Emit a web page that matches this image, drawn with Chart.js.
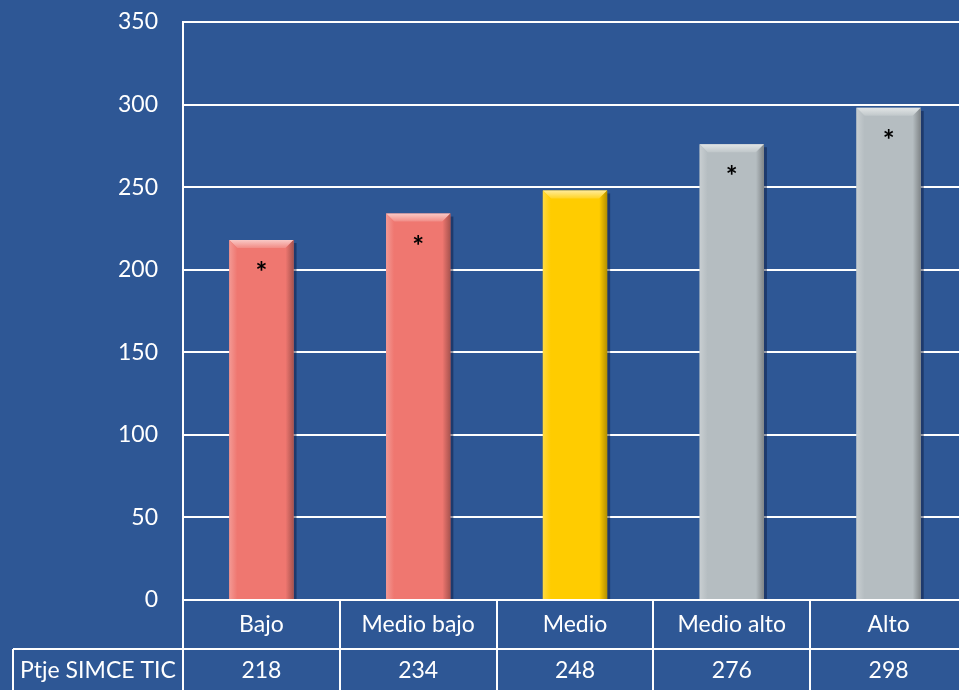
<!DOCTYPE html>
<html><head><meta charset="utf-8">
<script src="https://cdn.jsdelivr.net/npm/chart.js@4"></script>
<style>
html,body{margin:0;padding:0;background:#2E5795;overflow:hidden;}
#wrap{width:970px;height:690px;position:relative;}
</style></head>
<body><div id="wrap"><canvas id="c"></canvas></div>
<script>
const categories = ["Bajo", "Medio bajo", "Medio", "Medio alto", "Alto"];
const values = [218, 234, 248, 276, 298];
const significant = [true, true, false, true, true];
const rowLabel = "Ptje SIMCE TIC";
const yTicks = [0, 50, 100, 150, 200, 250, 300, 350];
const barColors = ["#EF7770", "#EF7770", "#FFCC00", "#B5BDC1", "#B5BDC1"];

const FONT = "Lato, 'Open Sans', sans-serif";

function shade(hex, amt) {
  const n = parseInt(hex.slice(1), 16);
  let r = (n >> 16) & 255, g = (n >> 8) & 255, b = n & 255;
  if (amt >= 0) { r += (255 - r) * amt; g += (255 - g) * amt; b += (255 - b) * amt; }
  else { r *= 1 + amt; g *= 1 + amt; b *= 1 + amt; }
  return `rgb(${Math.round(r)},${Math.round(g)},${Math.round(b)})`;
}

const bevelPlugin = {
  id: 'bevel',
  beforeDatasetsDraw(chart) {
    const ctx = chart.ctx;
    const meta = chart.getDatasetMeta(0);
    ctx.save();
    meta.data.forEach((bar) => {
      const w = bar.width, l = bar.x - w / 2, t = bar.y, b = bar.base;
      ctx.fillStyle = 'rgba(10,25,60,0.45)';
      ctx.fillRect(l + 3, t + 3, w, b - t - 3);
    });
    ctx.restore();
  },
  afterDatasetsDraw(chart) {
    const ctx = chart.ctx;
    const meta = chart.getDatasetMeta(0);
    ctx.save();
    meta.data.forEach((bar, i) => {
      const c = barColors[i];
      const w = bar.width, l = bar.x - w / 2, r = bar.x + w / 2, t = bar.y, b = bar.base;
      const d = 8;
      let g = ctx.createLinearGradient(0, t, 0, t + d);
      g.addColorStop(0, shade(c, 0.6));
      g.addColorStop(1, shade(c, 0.15));
      ctx.fillStyle = g;
      ctx.beginPath(); ctx.moveTo(l, t); ctx.lineTo(r, t); ctx.lineTo(r - d, t + d); ctx.lineTo(l + d, t + d); ctx.closePath(); ctx.fill();
      g = ctx.createLinearGradient(l, 0, l + d, 0);
      g.addColorStop(0, shade(c, 0.25));
      g.addColorStop(1, c);
      ctx.fillStyle = g;
      ctx.beginPath(); ctx.moveTo(l, t); ctx.lineTo(l + d, t + d); ctx.lineTo(l + d, b); ctx.lineTo(l, b); ctx.closePath(); ctx.fill();
      g = ctx.createLinearGradient(r - d, 0, r, 0);
      g.addColorStop(0, c);
      g.addColorStop(1, shade(c, -0.3));
      ctx.fillStyle = g;
      ctx.beginPath(); ctx.moveTo(r, t); ctx.lineTo(r - d, t + d); ctx.lineTo(r - d, b); ctx.lineTo(r, b); ctx.closePath(); ctx.fill();
      if (significant[i]) {
        ctx.fillStyle = '#000';
        ctx.font = "bold 28px " + FONT;
        ctx.textAlign = 'center';
        ctx.textBaseline = 'middle';
        ctx.fillText('*', bar.x, t + 33);
      }
    });
    ctx.restore();
  }
};

const tablePlugin = {
  id: 'table',
  afterDraw(chart) {
    const ctx = chart.ctx;
    const xs = chart.scales.x;
    const area = chart.chartArea;
    const catW = (area.right - area.left) / categories.length;
    const row1Top = area.bottom, row2Top = area.bottom + 49, row2Bot = row2Top + 45;
    ctx.save();
    ctx.strokeStyle = '#fff';
    ctx.lineWidth = 2;
    ctx.beginPath();
    for (let i = 0; i <= categories.length; i++) {
      const x = Math.round(area.left + i * catW);
      ctx.moveTo(x, row1Top); ctx.lineTo(x, row2Bot);
    }
    ctx.moveTo(13, row2Top); ctx.lineTo(area.right, row2Top);
    ctx.moveTo(13, row2Top); ctx.lineTo(13, row2Bot);
    ctx.moveTo(13, row2Bot); ctx.lineTo(area.right, row2Bot);
    ctx.stroke();
    ctx.fillStyle = '#fff';
    ctx.font = "23px " + FONT;
    ctx.textAlign = 'center';
    ctx.textBaseline = 'middle';
    categories.forEach((c, i) => {
      const x = xs.getPixelForValue(i);
      ctx.fillText(c, x, row1Top + 25);
      ctx.fillText(String(values[i]), x, row2Top + 22);
    });
    ctx.textAlign = 'left';
    ctx.fillText(rowLabel, 20, row2Top + 22);
    ctx.restore();
  }
};

new Chart(document.getElementById('c'), {
  type: 'bar',
  data: {
    labels: categories,
    datasets: [{
      data: values,
      backgroundColor: barColors,
      borderWidth: 0,
      barPercentage: 0.41,
      categoryPercentage: 1.0
    }]
  },
  options: {
    responsive: true,
    maintainAspectRatio: false,
    animation: false,
    events: [],
    layout: { padding: { top: 22, right: 3, bottom: 90, left: 0 } },
    plugins: { legend: { display: false }, tooltip: { enabled: false } },
    scales: {
      x: { display: false },
      y: {
        min: 0, max: 350,
        afterBuildTicks(scale) { scale.ticks = yTicks.map(v => ({ value: v })); },
        afterFit(scale) { scale.width = 183; scale.paddingTop = 0; scale.paddingBottom = 0; },
        border: { display: true, color: '#fff', width: 2 },
        grid: { color: '#fff', lineWidth: 2, drawTicks: false },
        ticks: { color: '#fff', padding: 25, font: { family: FONT, size: 23 } }
      }
    }
  },
  plugins: [bevelPlugin, tablePlugin]
});
</script></body></html>
